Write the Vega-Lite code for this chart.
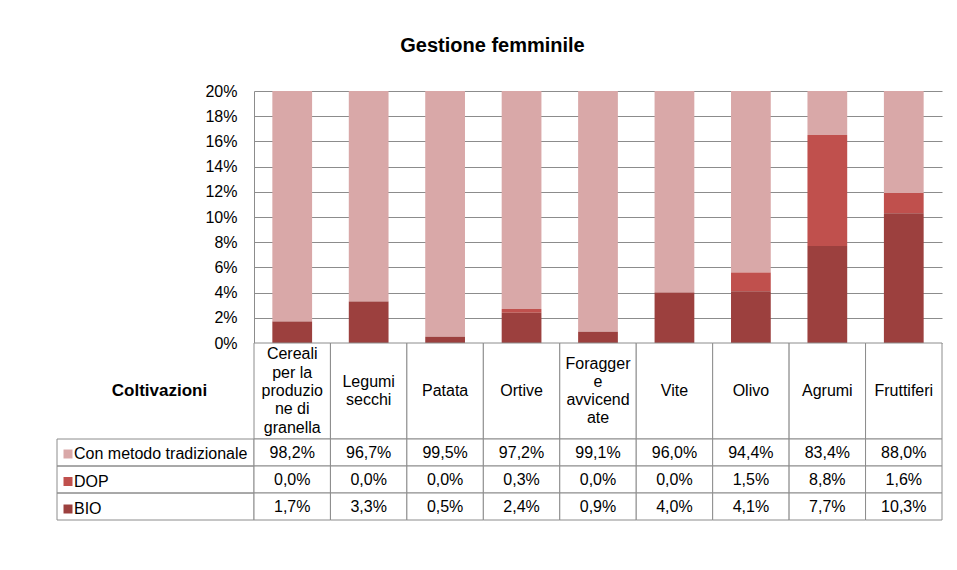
{
  "$schema": "https://vega.github.io/schema/vega-lite/v6.json",
  "padding": {"left": 56, "top": 35, "right": 10, "bottom": 10},
  "background": "white",
  "title": {"text": "Gestione femminile", "anchor": "middle", "fontSize": 20, "fontWeight": "bold", "font": "Liberation Sans", "color": "black", "offset": 27.5, "dx": -7},
  "datasets": {
    "main": [
      {"cat": "Cereali", "serie": "Con metodo tradizionale", "v": 0.982, "ord": 3},
      {"cat": "Cereali", "serie": "DOP", "v": 0.0, "ord": 2},
      {"cat": "Cereali", "serie": "BIO", "v": 0.017, "ord": 1},
      {"cat": "Legumi secchi", "serie": "Con metodo tradizionale", "v": 0.967, "ord": 3},
      {"cat": "Legumi secchi", "serie": "DOP", "v": 0.0, "ord": 2},
      {"cat": "Legumi secchi", "serie": "BIO", "v": 0.033, "ord": 1},
      {"cat": "Patata", "serie": "Con metodo tradizionale", "v": 0.995, "ord": 3},
      {"cat": "Patata", "serie": "DOP", "v": 0.0, "ord": 2},
      {"cat": "Patata", "serie": "BIO", "v": 0.005, "ord": 1},
      {"cat": "Ortive", "serie": "Con metodo tradizionale", "v": 0.972, "ord": 3},
      {"cat": "Ortive", "serie": "DOP", "v": 0.003, "ord": 2},
      {"cat": "Ortive", "serie": "BIO", "v": 0.024, "ord": 1},
      {"cat": "Foraggere", "serie": "Con metodo tradizionale", "v": 0.991, "ord": 3},
      {"cat": "Foraggere", "serie": "DOP", "v": 0.0, "ord": 2},
      {"cat": "Foraggere", "serie": "BIO", "v": 0.009, "ord": 1},
      {"cat": "Vite", "serie": "Con metodo tradizionale", "v": 0.96, "ord": 3},
      {"cat": "Vite", "serie": "DOP", "v": 0.0, "ord": 2},
      {"cat": "Vite", "serie": "BIO", "v": 0.04, "ord": 1},
      {"cat": "Olivo", "serie": "Con metodo tradizionale", "v": 0.944, "ord": 3},
      {"cat": "Olivo", "serie": "DOP", "v": 0.015, "ord": 2},
      {"cat": "Olivo", "serie": "BIO", "v": 0.041, "ord": 1},
      {"cat": "Agrumi", "serie": "Con metodo tradizionale", "v": 0.834, "ord": 3},
      {"cat": "Agrumi", "serie": "DOP", "v": 0.088, "ord": 2},
      {"cat": "Agrumi", "serie": "BIO", "v": 0.077, "ord": 1},
      {"cat": "Fruttiferi", "serie": "Con metodo tradizionale", "v": 0.88, "ord": 3},
      {"cat": "Fruttiferi", "serie": "DOP", "v": 0.016, "ord": 2},
      {"cat": "Fruttiferi", "serie": "BIO", "v": 0.103, "ord": 1}
    ],
    "header": [
      {"cat": "Cereali", "label": "Cereali\nper la\nproduzio\nne di\ngranella"},
      {"cat": "Legumi secchi", "label": "Legumi\nsecchi"},
      {"cat": "Patata", "label": "Patata"},
      {"cat": "Ortive", "label": "Ortive"},
      {"cat": "Foraggere", "label": "Foragger\ne\navvicend\nate"},
      {"cat": "Vite", "label": "Vite"},
      {"cat": "Olivo", "label": "Olivo"},
      {"cat": "Agrumi", "label": "Agrumi"},
      {"cat": "Fruttiferi", "label": "Fruttiferi"}
    ],
    "rows": [
      {"serie": "Con metodo tradizionale"},
      {"serie": "DOP"},
      {"serie": "BIO"}
    ],
    "corner": [{"t": "Coltivazioni"}]
  },
  "columns": 2,
  "spacing": 0,
  "bounds": "flush",
  "resolve": {"scale": {"x": "independent", "y": "independent"}},
  "concat": [
    {
      "width": 197, "height": 252,
      "data": {"name": "corner"},
      "mark": {"type": "text", "text": ""}
    },
    {
      "width": 688, "height": 252,
      "data": {"name": "main"},
      "mark": {"type": "bar", "clip": true},
      "encoding": {
        "x": {"field": "cat", "type": "nominal", "sort": ["Cereali", "Legumi secchi", "Patata", "Ortive", "Foraggere", "Vite", "Olivo", "Agrumi", "Fruttiferi"], "scale": {"paddingInner": 0.48, "paddingOuter": 0.24}, "axis": null},
        "y": {"field": "v", "type": "quantitative", "stack": "zero", "scale": {"domain": [0, 0.2], "nice": false},
          "axis": {"values": [0, 0.02, 0.04, 0.06, 0.08, 0.1, 0.12, 0.14, 0.16, 0.18, 0.2], "format": ".0%", "grid": true, "gridColor": "#8c8c8c", "gridOpacity": 1, "domainColor": "#8c8c8c", "ticks": false, "labelPadding": 17, "labelFontSize": 16, "labelColor": "black", "title": null}},
        "color": {"field": "serie", "type": "nominal",
          "scale": {"domain": ["Con metodo tradizionale", "DOP", "BIO"], "range": ["#d9a8a8", "#c0504d", "#9c403e"]},
          "legend": {"orient": "none", "legendX": 3, "legendY": 355, "title": null, "symbolType": "square", "symbolSize": 81, "symbolStrokeWidth": 0, "labelFontSize": 16, "labelColor": "black", "labelOffset": -2, "labelLimit": 0, "rowPadding": 11.5, "padding": 0}},
        "order": {"field": "ord", "type": "quantitative"}
      }
    },
    {
      "width": 197, "height": 96,
      "data": {"name": "corner"},
      "mark": {"type": "text", "fontSize": 17, "fontWeight": "bold", "color": "black", "dx": 4},
      "encoding": {"text": {"field": "t"}}
    },
    {
      "width": 688, "height": 96,
      "data": {"name": "header"},
      "encoding": {
        "x": {"field": "cat", "type": "nominal", "sort": ["Cereali", "Legumi secchi", "Patata", "Ortive", "Foraggere", "Vite", "Olivo", "Agrumi", "Fruttiferi"], "scale": {"paddingInner": 0, "paddingOuter": 0}, "axis": null}
      },
      "layer": [
        {"mark": {"type": "rect", "fill": "white", "stroke": "#8c8c8c", "strokeWidth": 1}},
        {"mark": {"type": "text", "fontSize": 16, "color": "black", "lineBreak": "\n", "lineHeight": 18.3, "dy": {"expr": "-9.15 * (length(split(datum.label, '\\n')) - 1)"}}, "encoding": {"text": {"field": "label"}}}
      ]
    },
    {
      "width": 197, "height": 81,
      "data": {"name": "rows"},
      "mark": {"type": "rect", "filled": false, "stroke": "#8c8c8c", "strokeWidth": 1},
      "encoding": {
        "y": {"field": "serie", "type": "nominal", "sort": ["Con metodo tradizionale", "DOP", "BIO"], "scale": {"paddingInner": 0, "paddingOuter": 0}, "axis": null}
      }
    },
    {
      "width": 688, "height": 81,
      "data": {"name": "main"},
      "encoding": {
        "x": {"field": "cat", "type": "nominal", "sort": ["Cereali", "Legumi secchi", "Patata", "Ortive", "Foraggere", "Vite", "Olivo", "Agrumi", "Fruttiferi"], "scale": {"paddingInner": 0, "paddingOuter": 0}, "axis": null},
        "y": {"field": "serie", "type": "nominal", "sort": ["Con metodo tradizionale", "DOP", "BIO"], "scale": {"paddingInner": 0, "paddingOuter": 0}, "axis": null}
      },
      "layer": [
        {"mark": {"type": "rect", "fill": "white", "stroke": "#8c8c8c", "strokeWidth": 1}},
        {"mark": {"type": "text", "fontSize": 16, "color": "black"}, "encoding": {"text": {"field": "v", "type": "quantitative", "format": ".1%"}}}
      ]
    }
  ],
  "config": {
    "font": "Liberation Sans",
    "view": {"stroke": null},
    "locale": {"number": {"decimal": ",", "thousands": ".", "grouping": [3], "currency": ["", " €"]}}
  }
}
